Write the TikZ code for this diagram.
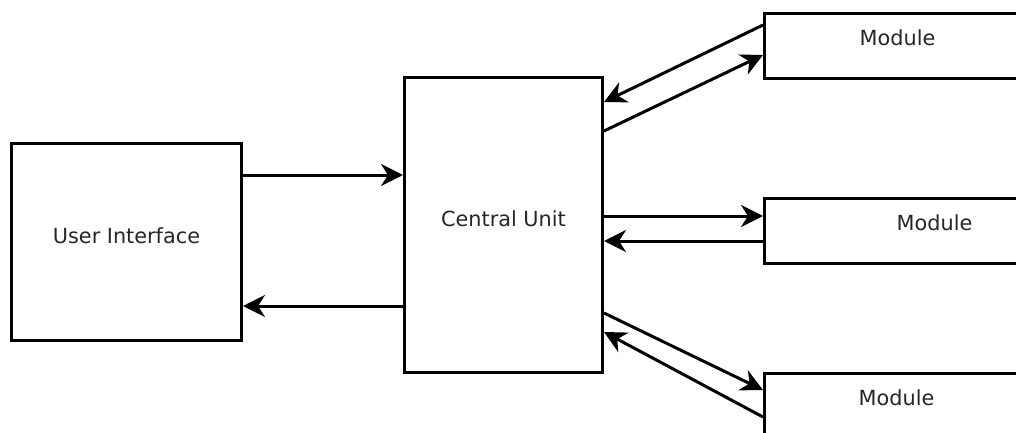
\documentclass[tikz,border=0pt]{standalone}
\usepackage{fontspec}
\setsansfont{DejaVu Sans}
\usetikzlibrary{positioning,arrows.meta,calc}

\begin{document}
\begin{tikzpicture}[
  x=1pt, y=-1pt,
  font=\fontsize{20.8}{24}\selectfont\sffamily,
  block/.style ={draw, line width=3pt, inner sep=0pt, anchor=north west, text=black!85, text height=15pt, text depth=12pt},
  modbox/.style={block, minimum height=65pt, text depth=16pt},
  arr/.style   ={-{Stealth[length=22pt, width=22pt, inset=7pt]}, line width=3pt},
]

% page frame, modules run off the right and bottom edge
\path[use as bounding box, fill=white] (0,0) rectangle (1016,433);
\clip (0,0) rectangle (1016,433);

% ==================== blocks ====================
\node[block, minimum width=230pt, minimum height=197pt] (ui) at (10,142) {User Interface};
\node[block, minimum width=198pt, minimum height=295pt] (cu) at (403,76) {Central Unit};

\node[modbox, minimum width=266pt] (modA) at (763,12)  {Module};
\node[modbox, minimum width=340pt] (modB) at (763,197) {Module};
\node[modbox, minimum width=264pt] (modC) at (763,372) {Module};

% ==================== UI <-> central unit ====================
\coordinate (uiOut) at ($(ui.north east)+(0,33)$);
\coordinate (uiIn)  at ($(ui.north east)+(0,164)$);
\draw[arr] (uiOut) -- (uiOut -| cu.west);
\draw[arr] (uiIn -| cu.west) -- (uiIn);

% ==================== central unit <-> modules ====================
% upper module
\draw[arr] ($(modA.north west)+(0,13)$) -- ($(cu.north east)+(0,26)$);
\draw[arr] ($(cu.north east)+(0,55)$) -- ($(modA.north west)+(0,43)$);

% middle module
\draw[arr] ($(cu.north east)+(0,140)$) -- ($(modB.north west)+(0,19)$);
\draw[arr] ($(modB.north west)+(0,44)$) -- ($(cu.north east)+(0,165)$);

% lower module
\draw[arr] ($(cu.north east)+(0,237)$) -- ($(modC.north west)+(0,18)$);
\draw[arr] ($(modC.north west)+(0,45)$) -- ($(cu.north east)+(0,256)$);

\end{tikzpicture}
\end{document}
